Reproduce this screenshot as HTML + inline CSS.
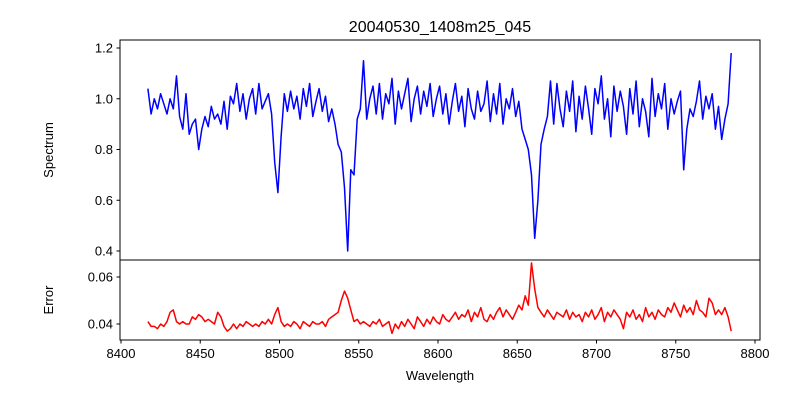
<!DOCTYPE html>
<html><head><meta charset="utf-8"><style>
body{margin:0;background:#fff;}
svg{display:block;font-family:"Liberation Sans","DejaVu Sans",sans-serif;}
</style></head><body>
<svg id="chart" width="800" height="400" viewBox="0 0 800 400">
<rect width="800" height="400" fill="#fff"/>
<text x="440" y="32" font-size="16" text-anchor="middle">20040530_1408m25_045</text>
<g id="topPanel"></g>
<g id="botPanel"></g>
<text x="0" y="0" transform="translate(53,150) rotate(-90)" font-size="13" text-anchor="middle">Spectrum</text>
<text x="0" y="0" transform="translate(53,300) rotate(-90)" font-size="13" text-anchor="middle">Error</text>
<text x="440" y="380" font-size="13" text-anchor="middle">Wavelength</text>
</svg>
<script>
const waveStart = 8417, waveStep = 2;
const spectrum = [
1.04,0.94,1.00,0.96,1.02,0.98,0.94,1.00,0.96,1.09,
0.93,0.88,1.02,0.86,0.90,0.92,0.80,0.88,0.93,0.89,
0.97,0.92,0.94,0.90,0.99,0.88,1.01,0.98,1.06,0.95,
1.02,0.92,1.00,1.04,0.94,1.06,0.96,0.99,1.02,0.94,
0.75,0.63,0.85,1.02,0.95,1.03,0.96,1.01,0.92,1.04,
0.97,1.06,0.93,0.99,1.04,0.95,1.01,0.91,0.96,0.90,
0.82,0.79,0.65,0.40,0.72,0.70,0.92,0.96,1.15,0.92,
1.00,1.05,0.94,1.06,0.92,1.02,0.98,1.08,0.90,1.03,
0.96,1.02,1.08,0.91,1.00,1.05,0.94,1.03,0.97,1.06,
0.93,1.00,1.05,0.94,1.02,0.90,0.99,1.06,0.95,1.01,
0.89,1.04,0.96,0.92,1.03,0.95,0.98,1.07,0.91,1.02,
0.94,1.06,0.90,1.00,0.96,1.04,0.93,0.99,0.88,0.84,
0.80,0.70,0.45,0.60,0.82,0.88,0.93,1.07,0.90,1.06,
0.96,0.89,1.03,0.95,1.07,0.87,1.01,0.92,1.05,0.96,
0.86,1.04,0.98,1.09,0.92,1.00,0.85,1.05,0.95,1.03,
0.97,0.86,1.04,0.94,1.07,0.89,1.00,0.95,0.85,1.08,
0.93,1.02,0.96,1.06,0.88,1.00,0.94,0.99,1.03,0.72,
0.88,0.96,0.93,0.99,1.07,0.92,1.01,0.96,1.02,0.88,
0.97,0.84,0.92,0.98,1.18];
const errors = [
.041,.039,.039,.038,.040,.039,.041,.045,.046,.041,
.040,.041,.040,.040,.043,.042,.044,.043,.041,.042,
.041,.040,.045,.043,.039,.037,.038,.040,.038,.040,
.039,.041,.040,.039,.040,.039,.041,.040,.042,.040,
.044,.047,.041,.039,.040,.039,.041,.040,.038,.041,
.040,.039,.041,.040,.040,.041,.039,.042,.043,.044,
.045,.050,.054,.051,.046,.041,.042,.040,.041,.040,
.039,.041,.040,.042,.039,.040,.041,.036,.040,.038,
.041,.039,.042,.040,.038,.043,.041,.039,.042,.040,
.043,.041,.040,.044,.042,.041,.043,.045,.042,.044,
.043,.046,.041,.045,.043,.047,.042,.041,.044,.042,
.045,.047,.043,.046,.044,.042,.045,.048,.046,.052,
.048,.066,.055,.047,.045,.043,.046,.044,.042,.045,
.044,.043,.046,.042,.045,.043,.044,.041,.045,.043,
.046,.042,.044,.047,.041,.045,.043,.046,.044,.042,
.038,.045,.043,.046,.042,.044,.041,.047,.043,.045,
.042,.046,.044,.043,.047,.045,.049,.046,.043,.048,
.045,.047,.044,.050,.046,.045,.043,.051,.049,.044,
.046,.044,.047,.043,.037];
const xTicks = [8400,8450,8500,8550,8600,8650,8700,8750,8800];
const specTicks = [0.4,0.6,0.8,1.0,1.2];
const errTicks = [0.04,0.06];

const NS="http://www.w3.org/2000/svg";
const X = w => 121 + (w-8400)*(755-121)/400;
const YS = v => 251 - (v-0.4)*(251-48)/0.8;
const YE = v => 324 - (v-0.04)*(324-277)/0.02;
function mk(parent,tag,attrs){const e=document.createElementNS(NS,tag);for(const k in attrs)e.setAttribute(k,attrs[k]);parent.appendChild(e);return e;}
const topG=document.getElementById('topPanel'), botG=document.getElementById('botPanel');

let d='';spectrum.forEach((v,i)=>{d+=(i?'L':'M')+X(waveStart+i*waveStep).toFixed(1)+','+YS(v).toFixed(1);});
const sl=mk(topG,'path',{d:d,fill:'none',stroke:'#0000ff','stroke-width':1.5,'stroke-linejoin':'round'});


d='';errors.forEach((v,i)=>{d+=(i?'L':'M')+X(waveStart+i*waveStep).toFixed(1)+','+YE(v).toFixed(1);});
const el=mk(botG,'path',{d:d,fill:'none',stroke:'#ff0000','stroke-width':1.5,'stroke-linejoin':'round'});



const f1=mk(topG,'rect',{x:120,y:40,width:640,height:220,fill:'none',stroke:'#000','stroke-width':1});


const f2=mk(botG,'rect',{x:120,y:260,width:640,height:80,fill:'none',stroke:'#000','stroke-width':1});



specTicks.forEach(t=>{const y=YS(t);
 mk(topG,'line',{x1:116.5,x2:120,y1:y,y2:y,stroke:'#000'});
 const tx=mk(topG,'text',{x:113,y:y+4.5,'font-size':13,'text-anchor':'end'});tx.textContent=t.toFixed(1);
 
 });
errTicks.forEach(t=>{const y=YE(t);
 mk(botG,'line',{x1:116.5,x2:120,y1:y,y2:y,stroke:'#000'});
 const tx=mk(botG,'text',{x:113,y:y+4.5,'font-size':13,'text-anchor':'end'});tx.textContent=t.toFixed(2);
 
 });
xTicks.forEach(t=>{const x=X(t);
 mk(botG,'line',{x1:x,x2:x,y1:340,y2:343.5,stroke:'#000'});
 const tx=mk(botG,'text',{x:x,y:358,'font-size':13,'text-anchor':'middle'});tx.textContent=t;
 
 });
</script>
</body></html>
